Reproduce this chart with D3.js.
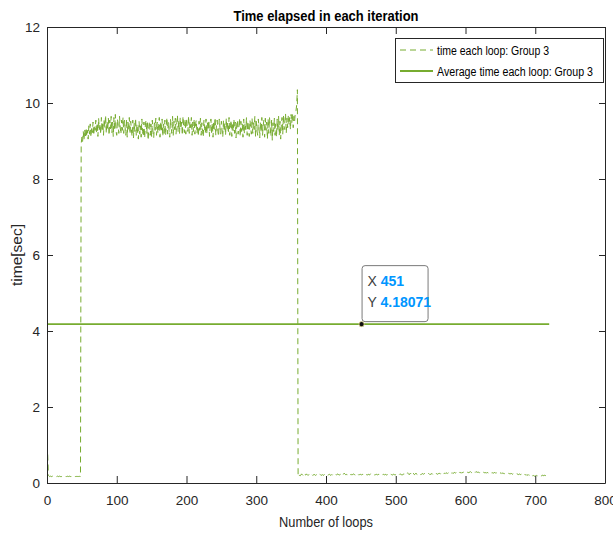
<!DOCTYPE html>
<html><head><meta charset="utf-8">
<script src="https://cdn.jsdelivr.net/npm/d3@7"></script>
<style>
html,body{margin:0;padding:0;background:#fff;}
svg{display:block;font-family:"Liberation Sans",Arial,Helvetica,sans-serif;}
</style></head>
<body>
<svg id="chart" width="613" height="535"></svg>
<script>
// ---- data ----
const titleText = "Time elapsed in each iteration";
const xLabel = "Number of loops";
const yLabel = "time[sec]";
const seriesNames = ["time each loop: Group 3", "Average time each loop: Group 3"];
const xTicks = [0,100,200,300,400,500,600,700,800];
const yTicks = [0,2,4,6,8,10,12];

// loops 1..48
const lowStart = [0.75,0.20,0.18,0.17,0.18,0.17,0.17,0.18,0.17,0.17,0.18,0.17,0.17,0.17,0.18,0.17,
  0.17,0.18,0.17,0.17,0.17,0.18,0.17,0.17,0.18,0.17,0.17,0.17,0.18,0.17,0.17,0.18,
  0.17,0.17,0.17,0.18,0.17,0.17,0.18,0.17,0.17,0.17,0.18,0.17,0.17,0.18,0.17,0.17];
// loops 49..358
const highPhase = [
 8.92,9.10,8.98,9.25,9.02,9.30,9.08,9.35,9.12,9.28,9.05,9.40,9.18,9.45,9.10,9.38,9.22,9.50,9.15,9.42,
 9.28,9.55,9.20,9.48,9.12,9.60,9.30,9.45,9.18,9.62,9.25,9.50,9.15,9.58,9.35,9.68,9.20,9.52,9.28,9.60,
 9.15,9.55,9.32,9.65,9.22,9.50,9.12,9.62,9.30,9.70,9.25,9.15,9.58,9.40,9.20,9.65,9.35,9.18,9.55,9.28,
 9.62,9.20,9.55,9.35,9.15,9.58,9.10,9.50,9.28,9.62,9.18,9.52,9.30,9.12,9.55,9.08,9.48,9.25,9.60,9.15,
 9.45,9.22,9.05,9.52,9.18,9.40,9.10,9.58,9.25,9.12,9.50,9.08,9.42,9.55,9.20,9.48,9.02,9.38,9.52,9.15,
 9.45,9.12,9.55,9.22,9.08,9.48,9.28,9.60,9.15,9.50,9.20,9.40,9.62,9.10,9.52,9.25,9.58,9.12,9.45,9.20,
 9.55,9.15,9.42,9.62,9.18,9.50,9.28,9.10,9.58,9.35,9.20,9.65,9.15,9.52,9.30,9.60,9.18,9.48,9.68,9.25,
 9.55,9.20,9.62,9.32,9.50,9.15,9.65,9.38,9.22,9.58,9.18,9.60,9.40,9.25,9.66,9.20,9.52,9.35,9.62,9.15,
 9.50,9.25,9.58,9.18,9.45,9.55,9.20,9.40,9.12,9.52,9.28,9.60,9.15,9.48,9.25,9.10,9.55,9.32,9.20,9.58,
 9.18,9.48,9.28,9.55,9.12,9.40,9.58,9.20,9.48,9.10,9.52,9.30,9.62,9.15,9.42,9.55,9.25,9.12,9.58,9.35,
 9.18,9.52,9.30,9.10,9.55,9.25,9.48,9.15,9.60,9.28,9.50,9.20,9.62,9.15,9.40,9.55,9.12,9.48,9.25,9.58,
 9.20,9.50,9.08,9.42,9.55,9.18,9.35,9.60,9.12,9.52,9.25,9.45,9.10,9.58,9.20,9.48,9.30,9.62,9.15,9.52,
 9.28,9.12,9.55,9.35,9.18,9.60,9.20,9.48,9.30,9.65,9.12,9.52,9.28,9.15,9.58,9.32,9.08,9.50,9.22,9.62,
 9.15,9.42,9.55,9.10,9.60,9.28,9.50,9.05,9.58,9.20,9.62,9.35,9.12,9.55,9.02,9.48,9.25,9.60,9.15,9.45,
 9.10,9.58,9.28,9.65,9.15,9.52,9.05,9.45,9.62,9.18,9.68,9.30,9.50,9.72,9.20,9.60,9.35,9.68,9.42,9.62,
 9.30,9.70,9.48,9.72,9.35,9.65,9.52,9.75,9.80,9.95];
// loop 359
const spike = [10.35];
// loops 360..720
const lowTail = [
 0.16,0.18,0.20,0.19,0.21,0.24,0.22,0.20,0.23,0.26,0.22,0.21,0.24,0.22,0.20,0.21,0.23,0.22,0.20,0.21,
 0.22,0.20,0.21,0.23,0.21,0.20,0.22,0.21,0.20,0.22,0.21,0.23,0.22,0.20,0.21,0.22,0.20,0.21,0.23,0.22,
 0.21,0.22,0.20,0.21,0.22,0.23,0.21,0.20,0.22,0.21,0.23,0.22,0.21,0.20,0.22,0.21,0.23,0.24,0.22,0.21,
 0.22,0.23,0.25,0.22,0.21,0.23,0.26,0.24,0.22,0.23,0.21,0.22,0.24,0.23,0.21,0.22,0.23,0.21,0.22,0.24,
 0.23,0.22,0.21,0.23,0.22,0.24,0.23,0.21,0.22,0.23,0.22,0.21,0.23,0.22,0.24,0.22,0.21,0.23,0.22,0.21,
 0.22,0.23,0.21,0.22,0.24,0.23,0.22,0.21,0.23,0.22,0.21,0.22,0.23,0.22,0.21,0.23,0.22,0.24,0.23,0.22,
 0.21,0.22,0.23,0.22,0.21,0.23,0.22,0.21,0.22,0.23,0.24,0.22,0.21,0.23,0.22,0.21,0.22,0.23,0.22,0.21,
 0.22,0.23,0.22,0.21,0.23,0.22,0.24,0.23,0.22,0.21,0.22,0.23,0.24,0.22,0.21,0.23,0.25,0.27,0.24,0.22,
 0.23,0.26,0.24,0.22,0.25,0.27,0.23,0.22,0.24,0.26,0.23,0.22,0.24,0.23,0.25,0.24,0.22,0.23,0.25,0.24,
 0.23,0.25,0.24,0.23,0.22,0.24,0.23,0.25,0.24,0.22,0.23,0.24,0.25,0.23,0.24,0.26,0.24,0.23,0.25,0.24,
 0.23,0.24,0.26,0.25,0.24,0.26,0.25,0.27,0.25,0.24,0.26,0.25,0.27,0.26,0.25,0.27,0.26,0.25,0.27,0.28,
 0.26,0.27,0.25,0.26,0.28,0.27,0.26,0.28,0.27,0.26,0.28,0.27,0.29,0.27,0.26,0.28,0.27,0.29,0.28,0.27,
 0.28,0.27,0.29,0.28,0.27,0.29,0.28,0.30,0.28,0.27,0.29,0.28,0.27,0.29,0.28,0.30,0.29,0.28,0.29,0.28,
 0.27,0.29,0.28,0.27,0.28,0.29,0.28,0.27,0.28,0.27,0.26,0.28,0.27,0.26,0.27,0.28,0.26,0.27,0.26,0.27,
 0.26,0.27,0.28,0.26,0.27,0.26,0.25,0.27,0.26,0.25,0.26,0.27,0.25,0.26,0.25,0.26,0.24,0.25,0.26,0.25,
 0.24,0.25,0.26,0.24,0.25,0.24,0.25,0.23,0.24,0.25,0.24,0.23,0.24,0.25,0.23,0.24,0.22,0.23,0.24,0.22,
 0.23,0.22,0.23,0.21,0.22,0.23,0.21,0.22,0.20,0.21,0.22,0.20,0.21,0.19,0.20,0.21,0.19,0.20,0.19,0.18,
 0.19,0.18,0.20,0.19,0.18,0.19,0.20,0.19,0.18,0.19,0.20,0.21,0.19,0.20,0.21,0.19,0.20,0.21,0.20,0.19,
 0.20];
const averageTime = 4.18071;
const averageRange = [1, 720];
const tipX = 451;

// ---- build ----
const loopTimes = [].concat(lowStart, highPhase, spike, lowTail);
const series = loopTimes.map((v,i)=>({x:i+1, y:v}));

const green = "#77ac30";
const axisCol = "#262626";
const svg = d3.select("#chart");
svg.append("rect").attr("width",613).attr("height",535).attr("fill","#fff");

const L=47, R=605, T=27, B=483;
const x = d3.scaleLinear().domain([0,800]).range([L,R]);
const y = d3.scaleLinear().domain([0,12]).range([B,T]);

const line = d3.line().x(d=>x(d.x)).y(d=>y(d.y));

// data lines
svg.append("path").datum(series).attr("d",line)
  .attr("fill","none").attr("stroke",green).attr("stroke-width",1.0)
  .attr("stroke-dasharray","6,4");
svg.append("path").datum(averageRange.map(v=>({x:v,y:averageTime}))).attr("d",line)
  .attr("fill","none").attr("stroke",green).attr("stroke-width",1.8);

// axes
function styleAxis(g){
  g.select(".domain").attr("stroke",axisCol).attr("stroke-width",1);
  g.selectAll(".tick line").attr("stroke",axisCol).attr("stroke-width",1);
  g.selectAll(".tick text").attr("fill","#262626").attr("font-size",13.5)
    .attr("font-family","'Liberation Sans',Arial,sans-serif");
}
svg.append("g").attr("transform",`translate(0,${B})`)
  .call(d3.axisBottom(x).tickValues(xTicks).tickSizeInner(-7).tickSizeOuter(0).tickPadding(12))
  .call(styleAxis);
svg.append("g").attr("transform",`translate(0,${T})`)
  .call(d3.axisTop(x).tickValues(xTicks).tickSizeInner(-7).tickSizeOuter(0).tickFormat(""))
  .call(styleAxis);
svg.append("g").attr("transform",`translate(${L},0)`)
  .call(d3.axisLeft(y).tickValues(yTicks).tickSizeInner(-6).tickSizeOuter(0).tickPadding(7))
  .call(styleAxis);
svg.append("g").attr("transform",`translate(${R},0)`)
  .call(d3.axisRight(y).tickValues(yTicks).tickSizeInner(-6).tickSizeOuter(0).tickFormat(""))
  .call(styleAxis);

// title and labels
svg.append("text").attr("x",(L+R)/2).attr("y",21).attr("text-anchor","middle")
  .attr("font-weight","bold").attr("font-size",14.5).attr("fill","#000")
  .attr("textLength",185).attr("lengthAdjust","spacingAndGlyphs").text(titleText);
svg.append("text").attr("x",(L+R)/2).attr("y",527).attr("text-anchor","middle")
  .attr("font-size",14.5).attr("fill","#262626")
  .attr("textLength",94).attr("lengthAdjust","spacingAndGlyphs").text(xLabel);
svg.append("text").attr("transform",`translate(22,${(T+B)/2}) rotate(-90)`).attr("text-anchor","middle")
  .attr("font-size",14.5).attr("fill","#262626")
  .attr("textLength",62).attr("lengthAdjust","spacingAndGlyphs").text(yLabel);

// legend
const lg = svg.append("g");
lg.append("rect").attr("x",395.5).attr("y",38.5).attr("width",208).attr("height",44)
  .attr("fill","#fff").attr("stroke",axisCol).attr("stroke-width",1);
const legY = [50, 71];
const legW = [112, 156];
lg.append("line").attr("x1",400).attr("x2",433).attr("y1",legY[0]).attr("y2",legY[0])
  .attr("stroke",green).attr("stroke-width",1.0).attr("stroke-dasharray","6,4");
lg.append("line").attr("x1",400).attr("x2",433).attr("y1",legY[1]).attr("y2",legY[1])
  .attr("stroke",green).attr("stroke-width",1.8);
seriesNames.forEach((n,i)=>{
  lg.append("text").attr("x",437).attr("y",legY[i]+4.5).attr("font-size",12.5)
    .attr("fill","#000").attr("textLength",legW[i]).attr("lengthAdjust","spacingAndGlyphs").text(n);
});

// datatip
const px = x(tipX), py = y(averageTime);
const tip = svg.append("g");
tip.append("rect").attr("x",px+0.5).attr("y",py-58.5).attr("width",66).attr("height",56)
  .attr("rx",3).attr("fill","#fff").attr("stroke","#7a7a7a").attr("stroke-width",1);
const tipLines = [["X ", String(tipX)], ["Y ", String(averageTime)]];
tipLines.forEach((t,i)=>{
  const tx = tip.append("text").attr("x",px+6).attr("y",py-38+i*21).attr("font-size",14);
  tx.append("tspan").attr("fill","#404040").text(t[0]);
  tx.append("tspan").attr("fill","#0096ff").attr("font-weight","bold").text(t[1]);
});
svg.append("circle").attr("cx",px).attr("cy",py).attr("r",2.6)
  .attr("fill","#111").attr("stroke","#f3e8a0").attr("stroke-width",0.8);
</script>
</body></html>
